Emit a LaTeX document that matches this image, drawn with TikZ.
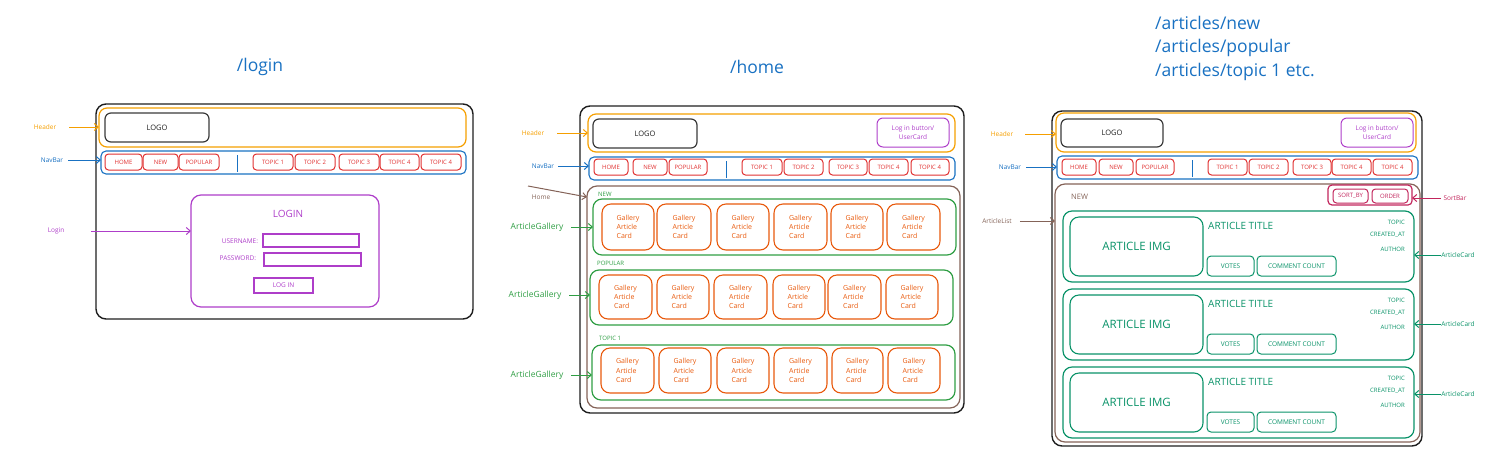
\documentclass[tikz,border=0pt]{standalone}
\usepackage{fontspec}
\setmainfont{Open Sans}
\usetikzlibrary{arrows.meta}
\definecolor{cDark}{HTML}{1E1E1E}
\definecolor{cLogo}{HTML}{3A3A3A}
\definecolor{cOrange}{HTML}{F59F00}
\definecolor{cBlue}{HTML}{1971C2}
\definecolor{cRed}{HTML}{E03131}
\definecolor{cPurple}{HTML}{AE3EC9}
\definecolor{cBrown}{HTML}{846358}
\definecolor{cGreen}{HTML}{2F9E44}
\definecolor{cCard}{HTML}{E8590C}
\definecolor{cTeal}{HTML}{099268}
\definecolor{cCrimson}{HTML}{C2255C}
\newcommand\fsz[2]{\fontsize{#1}{#2}\selectfont}
\newcommand\bx[7]{\node[#1, minimum width={(#5)-(#3)}, minimum height={(#6)-(#4)}] (#2) at ({((#3)+(#5))/2},{((#4)+(#6))/2}) {#7};}
\tikzset{
  wbx/.style={draw, line width=1pt, inner sep=0pt, outer sep=0pt, rounded corners=5pt},
  wframe/.style={wbx, draw=cDark, line width=1.4pt, rounded corners=10pt},
  whdr/.style={wbx, draw=cOrange, line width=1.2pt, rounded corners=8pt},
  wlogo/.style={wbx, draw=cLogo, line width=1.2pt, rounded corners=6pt, text=cDark, font=\fsz{7.5}{9}},
  wuser/.style={wbx, draw=cPurple, rounded corners=6pt, text=cPurple, font=\fsz{6.5}{9.5}, align=center},
  wnav/.style={wbx, draw=cBlue, line width=1.1pt, rounded corners=5pt},
  wnbtn/.style={wbx, draw=cRed, rounded corners=3.5pt, text=cRed, font=\fsz{6}{7}},
  wsep/.style={draw=cBlue, line width=1pt},
  wlbl/.style={inner sep=0pt, outer sep=0pt, font=\fsz{6.5}{8}},
  warr/.style={line width=1pt, -{Straight Barb[length=4pt,width=7pt]}},
  wlogin/.style={wbx, draw=cPurple, line width=1.2pt, rounded corners=10pt},
  wfield/.style={wbx, draw=cPurple, rounded corners=0pt, line width=1.4pt, text=cPurple, font=\fsz{6.5}{7}},
  whome/.style={wbx, draw=cBrown, line width=1.2pt, rounded corners=10pt},
  wgal/.style={wbx, draw=cGreen, line width=1.2pt, rounded corners=9pt},
  wgcard/.style={wbx, draw=cCard, line width=1.1pt, rounded corners=9pt, text=cCard, font=\fsz{7}{9.3}, align=left},
  wsec/.style={inner sep=0pt, anchor=west, text=cGreen, font=\fsz{6}{7}},
  wsort/.style={wbx, draw=cCrimson, line width=1.2pt, rounded corners=4pt},
  wsbtn/.style={wbx, draw=cCrimson, rounded corners=3.5pt, text=cCrimson, font=\fsz{6}{7}},
  wacard/.style={wbx, draw=cTeal, line width=1.2pt, rounded corners=9pt},
  waimg/.style={wbx, draw=cTeal, line width=1.1pt, rounded corners=9pt, text=cTeal, font=\fsz{11.5}{13}},
  wabtn/.style={wbx, draw=cTeal, rounded corners=4pt, text=cTeal, font=\fsz{6.5}{7}},
  watxt/.style={inner sep=0pt, text=cTeal, font=\fsz{6}{7}},
  wtitle/.style={inner sep=0pt, text=cBlue, font=\fsz{17.5}{23.5}},
}
\begin{document}
\begin{tikzpicture}[x=1pt,y=-1pt]
\useasboundingbox (0,0) rectangle (1501,464);

% ---------- titles ----------
\node[wtitle] (tLogin) at (260,67) {/login};
\node[wtitle] (tHome) at (757,67) {/home};
\node[wtitle, anchor=west, align=left] (tArt) at (1155,48) {/articles/new\\/articles/popular\\/articles/topic 1 etc.};

% ---------- /login ----------
\bx{wframe}{frL}{96}{104}{473}{319}{}
\bx{whdr}{hdL}{99}{108}{466}{147}{}
\bx{wlogo}{lgL}{105}{113}{209}{142}{LOGO}
\bx{wnav}{nvL}{101}{151}{466}{174}{}
\foreach \t/\a/\b [count=\i] in {HOME/105/142,NEW/143/178,POPULAR/179/219,TOPIC 1/253/293,TOPIC 2/295/335,TOPIC 3/339/379,TOPIC 4/380/419,TOPIC 4/421/461}
  {\bx{wnbtn}{nbL\i}{\a}{154}{\b}{170}{\t}}
\draw[wsep] (237,155) -- (237,172);
\node[wlbl, text=cOrange] (hlL) at (45,127) {Header};
\draw[warr, cOrange] ([xshift=13pt]hlL.east) -- (hlL.east -| hdL.west);
\node[wlbl, text=cBlue] (nlL) at (52,160) {NavBar};
\draw[warr, cBlue] ([xshift=5pt]nlL.east) -- (nlL.east -| nvL.west);

\bx{wlogin}{lbx}{191}{195}{379}{307}{}
\node[inner sep=0pt, text=cPurple, font=\fsz{10}{12}] (ltitle) at (288,214) {LOGIN};
\node[wlbl, text=cPurple, anchor=east] (uname) at (258,241) {USERNAME:};
\bx{wfield}{ubox}{263}{234}{359}{247}{}
\node[wlbl, text=cPurple, anchor=east] (pword) at (256,258) {PASSWORD:};
\bx{wfield}{pbox}{264}{253}{361}{266}{}
\bx{wfield}{lbtn}{254}{278}{313}{293}{LOG IN}
\node[wlbl, text=cPurple] (llbl) at (56,231) {Login};
\draw[warr, cPurple] ([xshift=27pt]llbl.east) -- (llbl.east -| lbx.west);

% ---------- /home ----------
\bx{wframe}{frH}{580}{106}{964}{413}{}
\bx{whdr}{hdH}{588}{114}{955}{152}{}
\bx{wlogo}{lgH}{593}{119}{697}{148}{LOGO}
\bx{wuser}{usH}{877}{118}{949}{147}{Log in button/\\UserCard}
\bx{wnav}{nvH}{589}{157}{955}{180}{}
\foreach \t/\a/\b [count=\i] in {HOME/594/628,NEW/633/667,POPULAR/669/707,TOPIC 1/742/782,TOPIC 2/784/823,TOPIC 3/829/867,TOPIC 4/869/908,TOPIC 4/911/949}
  {\bx{wnbtn}{nbH\i}{\a}{159}{\b}{175}{\t}}
\draw[wsep] (726,161) -- (726,178);
\node[wlbl, text=cOrange] (hlH) at (533,133) {Header};
\draw[warr, cOrange] ([xshift=13pt]hlH.east) -- (hlH.east -| hdH.west);
\node[wlbl, text=cBlue] (nlH) at (543,166) {NavBar};
\draw[warr, cBlue] ([xshift=4pt]nlH.east) -- (nlH.east -| nvH.west);

\bx{whome}{hmH}{587}{186}{960}{408}{}
\coordinate (hmA) at (528,186);
\node[wlbl, text=cBrown] (hmL) at (541,197) {Home};
\draw[warr, cBrown] (hmA) -- (hmH.west |- hmL);

\node[wsec] (secN) at (598,194) {NEW};
\node[wsec] (secP) at (597,263) {POPULAR};
\node[wsec] (secT) at (599,338) {TOPIC 1};

\bx{wgal}{ga1}{593}{199}{956}{255}{}
\bx{wgal}{ga2}{590}{270}{953}{325}{}
\bx{wgal}{ga3}{592}{345}{955}{400}{}
\foreach \a/\b [count=\i] in {602/654,657/711,717/769,774/827,831/883,887/940}
  {\bx{wgcard}{gc1\i}{\a}{204}{\b}{250}{Gallery\\Article\\Card}}
\foreach \a/\b [count=\i] in {599/652,657/709,714/767,773/825,828/881,886/938}
  {\bx{wgcard}{gc2\i}{\a}{275}{\b}{319}{Gallery\\Article\\Card}}
\foreach \a/\b [count=\i] in {601/654,659/711,717/769,774/827,832/883,888/940}
  {\bx{wgcard}{gc3\i}{\a}{348}{\b}{393}{Gallery\\Article\\Card}}

\node[wlbl, text=cGreen, font=\fsz{8.5}{10}] (agl1) at (537,227) {ArticleGallery};
\draw[warr, cGreen] ([xshift=8pt]agl1.east) -- (agl1.east -| ga1.west);
\node[wlbl, text=cGreen, font=\fsz{8.5}{10}] (agl2) at (535,295) {ArticleGallery};
\draw[warr, cGreen] ([xshift=8pt]agl2.east) -- (agl2.east -| ga2.west);
\node[wlbl, text=cGreen, font=\fsz{8.5}{10}] (agl3) at (537,375) {ArticleGallery};
\draw[warr, cGreen] ([xshift=8pt]agl3.east) -- (agl3.east -| ga3.west);

% ---------- /articles ----------
\bx{wframe}{frA}{1052}{111}{1422}{446}{}
\bx{whdr}{hdA}{1056}{113}{1416}{152}{}
\bx{wlogo}{lgA}{1061}{119}{1163}{147}{LOGO}
\bx{wuser}{usA}{1341}{118}{1413}{147}{Log in button/\\UserCard}
\bx{wnav}{nvA}{1057}{156}{1418}{179}{}
\foreach \t/\a/\b [count=\i] in {HOME/1062/1096,NEW/1099/1133,POPULAR/1136/1174,TOPIC 1/1208/1247,TOPIC 2/1249/1288,TOPIC 3/1293/1331,TOPIC 4/1332/1371,TOPIC 4/1373/1412}
  {\bx{wnbtn}{nbA\i}{\a}{159}{\b}{175}{\t}}
\draw[wsep] (1192,160) -- (1192,177);
\node[wlbl, text=cOrange] (hlA) at (1002,134) {Header};
\draw[warr, cOrange] ([xshift=12pt]hlA.east) -- (hlA.east -| hdA.west);
\node[wlbl, text=cBlue] (nlA) at (1010,167) {NavBar};
\draw[warr, cBlue] ([xshift=5pt]nlA.east) -- (nlA.east -| nvA.west);

\bx{whome}{liA}{1055}{184}{1420}{442}{}
\node[inner sep=0pt, anchor=west, text=cBrown, font=\fsz{7.5}{9}] (liN) at (1071,197) {NEW};
\node[wlbl, text=cBrown] (liL) at (997,221) {ArticleList};
\draw[warr, cBrown] ([xshift=8pt]liL.east) -- (liL.east -| liA.west);

\bx{wsort}{soA}{1328}{185}{1412}{205}{}
\bx{wsbtn}{sbA1}{1333}{189}{1368}{203}{SORT\_BY}
\bx{wsbtn}{sbA2}{1372}{189}{1408}{203}{ORDER}
\node[wlbl, text=cCrimson] (soL) at (1455,198) {SortBar};
\draw[warr, cCrimson] ([xshift=-3pt]soL.west) -- (soL.west -| soA.east);

\foreach \t/\ay [count=\i] in {211/255,289/324,367/394}{
  \bx{wacard}{ac\i}{1063}{\t}{1414}{\t+71}{}
  \bx{waimg}{ai\i}{1070}{\t+6}{1203}{\t+65}{ARTICLE IMG}
  \node[watxt, anchor=west, font=\fsz{10}{11}] (at\i) at (1208,\t+15) {ARTICLE TITLE};
  \node[watxt, anchor=east] (tp\i) at (1405,\t+11) {TOPIC};
  \node[watxt, anchor=east] (cr\i) at (1405,\t+24) {CREATED\_AT};
  \node[watxt, anchor=east] (au\i) at (1405,\t+38) {AUTHOR};
  \bx{wabtn}{vo\i}{1207}{\t+45}{1254}{\t+65}{VOTES}
  \bx{wabtn}{cc\i}{1257}{\t+45}{1336}{\t+65}{COMMENT COUNT}
  \node[wlbl, text=cTeal] (acl\i) at (1458,\ay) {ArticleCard};
  \draw[warr, cTeal] (acl\i.west) -- (acl\i.west -| ac\i.east);
}
\end{tikzpicture}
\end{document}
